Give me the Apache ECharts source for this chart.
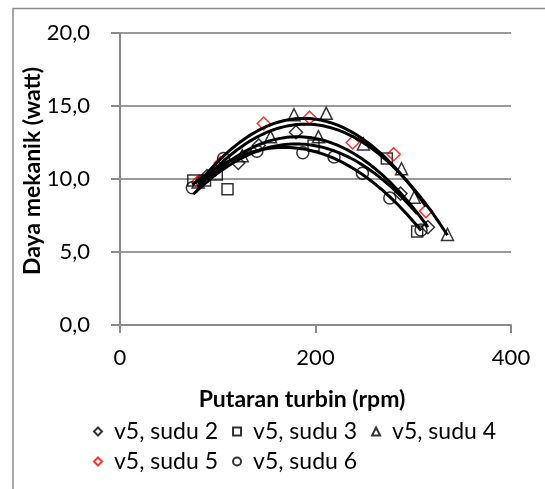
<!DOCTYPE html>
<html>
<head>
<meta charset="utf-8">
<script src="https://cdn.jsdelivr.net/npm/echarts@6/dist/echarts.min.js"></script>
<style>
html, body { margin: 0; padding: 0; background: #fff; }
#chart { width: 545px; height: 489px; }
</style>
</head>
<body>
<div id="chart"></div>
<script>
// tick values of the two axes
var xTicks = [0, 200, 400];
var yTicks = [0, 5, 10, 15, 20];

var seriesNames = ['v5, sudu 2', 'v5, sudu 3', 'v5, sudu 4', 'v5, sudu 5', 'v5, sudu 6'];

// [rpm, watt]
var sudu2 = [[89, 10.2], [121, 11.1], [142, 12.3], [180, 13.2], [287, 9.0], [315, 6.7]];
var sudu3 = [[75, 9.9], [87, 9.9], [99, 10.3], [110, 9.3], [198, 12.3], [273, 11.4], [304, 6.4]];
var sudu4 = [[80, 9.8], [125, 11.6], [154, 12.9], [178, 14.4], [203, 12.9], [211, 14.5], [249, 12.4], [288, 10.7], [301, 8.75], [335, 6.2]];
var sudu5 = [[80, 9.8], [103, 11.1], [147, 13.8], [194, 14.2], [238, 12.5], [280, 11.7], [313, 7.8]];
var sudu6 = [[74, 9.4], [106, 11.4], [140, 11.9], [187, 11.8], [219, 11.5], [248, 10.4], [276, 8.7], [308, 6.5]];

var seriesData = [sudu2, sudu3, sudu4, sudu5, sudu6];
var symbols = ['diamond', 'rect', 'triangle', 'diamond', 'circle'];
var symbolSizes = [13, 11, 12, 13, 12];
var colors = ['#000', '#000', '#000', '#ff0000', '#000'];

var FONT = 'Lato';

// least squares polynomial (Excel style trendline, order 2)
function polyFit(pts, order) {
    var n = order + 1;
    var A = [], b = [];
    for (var i = 0; i < n; i++) {
        A.push([]);
        for (var j = 0; j < n; j++) {
            var s = 0;
            pts.forEach(function (p) { s += Math.pow(p[0], i + j); });
            A[i].push(s);
        }
        var t = 0;
        pts.forEach(function (p) { t += p[1] * Math.pow(p[0], i); });
        b.push(t);
    }
    for (var k = 0; k < n; k++) {
        var piv = k;
        for (var r = k + 1; r < n; r++) if (Math.abs(A[r][k]) > Math.abs(A[piv][k])) piv = r;
        var tmp = A[k]; A[k] = A[piv]; A[piv] = tmp;
        var tb = b[k]; b[k] = b[piv]; b[piv] = tb;
        for (var r2 = k + 1; r2 < n; r2++) {
            var f = A[r2][k] / A[k][k];
            for (var c = k; c < n; c++) A[r2][c] -= f * A[k][c];
            b[r2] -= f * b[k];
        }
    }
    var coef = new Array(n);
    for (var k2 = n - 1; k2 >= 0; k2--) {
        var s2 = b[k2];
        for (var c2 = k2 + 1; c2 < n; c2++) s2 -= A[k2][c2] * coef[c2];
        coef[k2] = s2 / A[k2][k2];
    }
    return coef;
}

function trendLine(pts) {
    var coef = polyFit(pts, 2);
    var xs = pts.map(function (p) { return p[0]; });
    var x0 = Math.min.apply(null, xs), x1 = Math.max.apply(null, xs);
    var out = [];
    for (var i = 0; i <= 80; i++) {
        var x = x0 + (x1 - x0) * i / 80;
        var y = 0;
        for (var k = 0; k < coef.length; k++) y += coef[k] * Math.pow(x, k);
        out.push([x, y]);
    }
    return out;
}

var series = [];
seriesData.forEach(function (d, i) {
    series.push({
        name: seriesNames[i],
        type: 'scatter',
        data: d,
        symbol: symbols[i],
        symbolSize: symbolSizes[i],
        itemStyle: { color: 'rgba(255,255,255,0)', borderColor: colors[i], borderWidth: 1.5 },
        z: 2
    });
});
seriesData.forEach(function (d, i) {
    series.push({
        name: 'trend' + i,
        type: 'line',
        data: trendLine(d),
        showSymbol: false,
        symbol: 'none',
        lineStyle: { color: '#000', width: 3 },
        silent: true,
        z: 3
    });
});

var fmt = function (v) { return v.toFixed(1).replace('.', ','); };

var dom = document.getElementById('chart');
var myChart = echarts.init(dom, null, { renderer: 'canvas' });

var legendText = { color: '#000', fontSize: 23, fontFamily: FONT, padding: [0, 0, 0, 7] };

var option = {
    animation: false,
    backgroundColor: '#fff',
    graphic: [{
        type: 'rect',
        shape: { x: 13, y: 8.5, width: 600, height: 600 },
        style: { fill: 'none', stroke: '#8a8a8a', lineWidth: 1.5 },
        silent: true
    }],
    grid: { left: 120, right: 34, top: 33, bottom: 164 },
    legend: [{
        data: seriesNames.slice(0, 3),
        left: 93, top: 420,
        padding: 0,
        itemWidth: 8, itemHeight: 8, itemGap: 14,
        textStyle: legendText
    }, {
        data: seriesNames.slice(3),
        left: 93, top: 450,
        padding: 0,
        itemWidth: 8, itemHeight: 8, itemGap: 14,
        textStyle: legendText
    }],
    xAxis: {
        type: 'value',
        min: xTicks[0], max: xTicks[xTicks.length - 1], interval: xTicks[1] - xTicks[0],
        name: 'Putaran turbin (rpm)',
        nameLocation: 'middle',
        nameGap: 63,
        nameMoveOverlap: false,
        nameTextStyle: { color: '#000', fontSize: 23, fontWeight: 'bold', fontFamily: FONT, padding: [0, 27, 0, 0] },
        axisLine: { show: true, lineStyle: { color: '#8a8a8a', width: 2 } },
        axisTick: { show: true, length: 8, lineStyle: { color: '#8a8a8a', width: 2 } },
        axisLabel: { color: '#000', fontSize: 22, fontFamily: FONT, margin: 22 },
        splitLine: { show: false }
    },
    yAxis: {
        type: 'value',
        min: yTicks[0], max: yTicks[yTicks.length - 1], interval: yTicks[1] - yTicks[0],
        name: 'Daya mekanik (watt)',
        nameLocation: 'middle',
        nameGap: 76,
        nameMoveOverlap: false,
        nameTextStyle: { color: '#000', fontSize: 23, fontWeight: 'bold', fontFamily: FONT, padding: [0, 0, 0, 16] },
        axisLine: { show: true, lineStyle: { color: '#8a8a8a', width: 2 } },
        axisTick: { show: true, length: 9, lineStyle: { color: '#8a8a8a', width: 2 } },
        axisLabel: { color: '#000', fontSize: 22, fontFamily: FONT, margin: 30, formatter: fmt },
        splitLine: { show: true, lineStyle: { color: '#9a9a9a', width: 2 } }
    },
    series: series
};

if (option && typeof option === 'object') {
    myChart.setOption(option);
}
</script>
</body>
</html>
